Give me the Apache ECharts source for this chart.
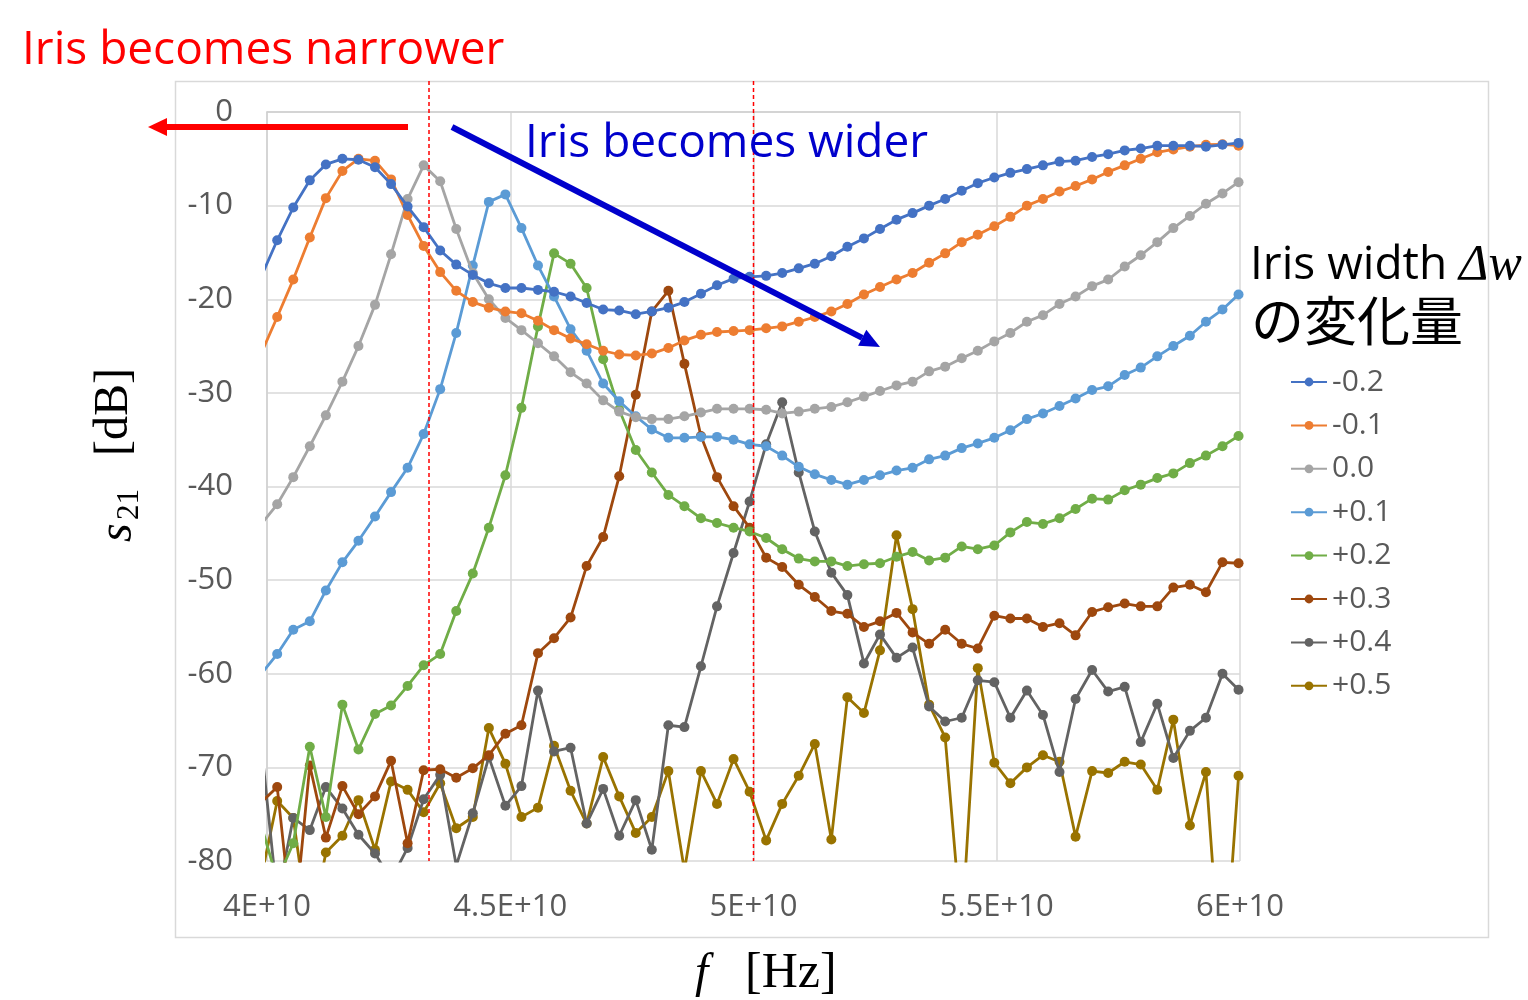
<!DOCTYPE html>
<html lang="en">
<head>
<meta charset="UTF-8">
<title>s21 vs f</title>
<script src="https://cdn.jsdelivr.net/npm/echarts@6/dist/echarts.min.js"></script>
<style>
  html, body { margin: 0; padding: 0; background: #fff; }
  #chart { width: 1528px; height: 1000px; }
</style>
</head>
<body>
<div id="chart"></div>
<script>
// frequency points [GHz] (first point sits just left of the axis start)
var freqs = [39.87, 40.21, 40.54, 40.88, 41.21, 41.55, 41.88, 42.22, 42.55, 42.89,
  43.22, 43.56, 43.89, 44.23, 44.56, 44.90, 45.23, 45.57, 45.90, 46.24,
  46.57, 46.91, 47.24, 47.58, 47.91, 48.25, 48.58, 48.92, 49.25, 49.59,
  49.92, 50.26, 50.59, 50.93, 51.26, 51.60, 51.93, 52.27, 52.60, 52.94,
  53.27, 53.61, 53.94, 54.28, 54.61, 54.95, 55.28, 55.62, 55.95, 56.29,
  56.62, 56.96, 57.29, 57.63, 57.96, 58.30, 58.63, 58.97, 59.30, 59.64, 59.97];

var names = ['-0.2', '-0.1', '0.0', '+0.1', '+0.2', '+0.3', '+0.4', '+0.5'];
var colors = ['#4472C4', '#ED7D31', '#A5A5A5', '#5B9BD5', '#70AD47', '#9E480E', '#636363', '#997300'];

var s_m02 = [-17.7, -13.7, -10.2, -7.3, -5.6, -5.0, -5.1, -5.9, -7.7, -10.1,
  -12.3, -14.8, -16.3, -17.4, -18.3, -18.8, -18.8, -19.0, -19.2, -19.7,
  -20.4, -21.1, -21.2, -21.6, -21.3, -20.9, -20.3, -19.4, -18.5, -17.8,
  -17.6, -17.5, -17.2, -16.7, -16.2, -15.4, -14.4, -13.5, -12.5, -11.5,
  -10.8, -10.0, -9.3, -8.4, -7.6, -7.0, -6.5, -6.1, -5.7, -5.3,
  -5.2, -4.8, -4.5, -4.1, -3.9, -3.6, -3.6, -3.6, -3.7, -3.5, -3.3];

var s_m01 = [-25.9, -21.9, -17.9, -13.4, -9.2, -6.3, -5.0, -5.2, -7.2, -11.0,
  -14.3, -17.1, -19.1, -20.3, -20.9, -21.3, -21.5, -22.3, -23.3, -24.2,
  -24.8, -25.5, -25.9, -26.0, -25.8, -25.2, -24.4, -23.8, -23.5, -23.4,
  -23.3, -23.1, -22.9, -22.4, -21.9, -21.3, -20.5, -19.5, -18.7, -17.9,
  -17.2, -16.1, -15.1, -13.9, -13.1, -12.2, -11.2, -10.0, -9.3, -8.5,
  -7.9, -7.2, -6.4, -5.7, -5.0, -4.3, -4.0, -3.7, -3.5, -3.45, -3.6];

var s_00 = [-44.1, -41.9, -39.0, -35.7, -32.4, -28.8, -25.0, -20.6, -15.2, -9.3,
  -5.7, -7.4, -12.5, -17.2, -20.0, -22.0, -23.3, -24.7, -26.1, -27.8,
  -29.0, -30.8, -32.0, -32.6, -32.8, -32.8, -32.5, -32.1, -31.7, -31.7,
  -31.7, -31.8, -32.2, -32.0, -31.7, -31.5, -31.0, -30.4, -29.8, -29.2,
  -28.8, -27.7, -27.2, -26.3, -25.5, -24.5, -23.6, -22.4, -21.7, -20.5,
  -19.7, -18.6, -17.9, -16.5, -15.3, -13.9, -12.4, -11.1, -9.8, -8.7, -7.5];

var s_p01 = [-60.1, -57.9, -55.3, -54.4, -51.1, -48.1, -45.8, -43.2, -40.6, -38.0,
  -34.4, -29.6, -23.6, -16.4, -9.6, -8.8, -12.4, -16.4, -19.7, -23.2,
  -25.5, -29.0, -30.9, -32.5, -33.9, -34.8, -34.8, -34.7, -34.7, -35.0,
  -35.5, -35.7, -36.7, -37.9, -38.7, -39.3, -39.8, -39.3, -38.8, -38.3,
  -38.0, -37.1, -36.7, -35.9, -35.4, -34.8, -34.0, -32.8, -32.2, -31.4,
  -30.6, -29.7, -29.3, -28.1, -27.3, -26.1, -25.0, -23.9, -22.4, -21.1, -19.5];

var s_p02 = [-76.0, -82.0, -78.1, -67.8, -75.3, -63.3, -68.1, -64.3, -63.4, -61.3,
  -59.1, -57.9, -53.3, -49.3, -44.4, -38.8, -31.6, -22.9, -15.1, -16.2,
  -18.8, -26.4, -31.8, -36.1, -38.5, -40.9, -42.1, -43.4, -43.9, -44.4,
  -44.8, -45.5, -46.7, -47.7, -48.0, -48.0, -48.5, -48.3, -48.2, -47.5,
  -47.0, -47.9, -47.6, -46.4, -46.7, -46.3, -44.9, -43.8, -44.0, -43.4,
  -42.4, -41.3, -41.4, -40.4, -39.8, -39.1, -38.6, -37.5, -36.7, -35.7, -34.6];

var s_p03 = [-73.8, -72.1, -88.0, -69.8, -77.5, -72.0, -75.0, -73.1, -69.3, -78.1,
  -70.3, -70.2, -71.1, -70.1, -68.7, -66.4, -65.5, -57.8, -56.2, -54.0,
  -48.5, -45.4, -38.9, -30.2, -21.3, -19.1, -26.9, -34.6, -39.0, -42.1,
  -44.4, -47.6, -48.6, -50.5, -51.8, -53.3, -53.6, -55.0, -54.4, -53.5,
  -55.6, -56.8, -55.3, -56.8, -57.3, -53.8, -54.1, -54.1, -55.0, -54.6,
  -55.9, -53.4, -52.9, -52.5, -52.8, -52.8, -50.8, -50.5, -51.3, -48.1, -48.2];

var s_p04 = [-67.0, -84.0, -75.4, -76.7, -72.1, -74.4, -77.2, -79.2, -82.0, -78.6,
  -73.4, -70.8, -80.5, -74.9, -68.9, -74.1, -72.0, -61.8, -68.3, -67.9,
  -76.0, -72.3, -77.3, -73.5, -78.8, -65.5, -65.7, -59.2, -52.8, -47.1,
  -41.6, -35.5, -31.0, -38.5, -44.8, -49.2, -51.6, -58.9, -55.8, -58.3,
  -57.2, -63.5, -65.1, -64.7, -60.7, -60.9, -64.7, -61.8, -64.4, -70.5,
  -62.7, -59.6, -61.9, -61.4, -67.3, -63.2, -69.0, -66.1, -64.7, -60.0, -61.7];

var s_p05 = [-82.0, -73.6, -75.4, -88.0, -79.1, -77.3, -73.5, -78.8, -71.5, -72.4,
  -74.8, -71.7, -76.5, -75.3, -65.8, -69.6, -75.3, -74.3, -67.7, -72.5,
  -76.0, -68.9, -73.1, -77.0, -75.3, -70.4, -81.0, -70.4, -73.9, -69.1,
  -72.6, -77.8, -73.9, -70.9, -67.5, -77.7, -62.5, -64.2, -57.5, -45.2,
  -53.1, -63.3, -66.8, -87.5, -59.4, -69.5, -71.7, -70.0, -68.7, -69.4,
  -77.4, -70.4, -70.6, -69.4, -69.7, -72.4, -64.9, -76.2, -70.5, -95.0, -70.9];

var allSeries = [s_m02, s_m01, s_00, s_p01, s_p02, s_p03, s_p04, s_p05];

// dashed marker frequencies [GHz]
var markerFreqs = [43.33, 50.0];

var chart = echarts.init(document.getElementById('chart'));
var labelFont = '"Open Sans", "Noto Sans", sans-serif';

var series = allSeries.map(function (vals, k) {
  return {
    name: names[k],
    type: 'line',
    data: freqs.map(function (f, i) { return [f, vals[i]]; }),
    symbol: 'circle',
    symbolSize: 10,
    showAllSymbol: true,
    clip: true,
    itemStyle: { color: colors[k] },
    lineStyle: { color: colors[k], width: 2.8 },
    z: 10 - k
  };
});

chart.setOption({
  animation: false,
  backgroundColor: '#ffffff',
  grid: { left: 267, right: 288, top: 112, bottom: 139 },
  xAxis: {
    type: 'value', min: 40, max: 60, interval: 5,
    axisLine: { show: true, lineStyle: { color: '#D0D0D0', width: 1.5 } },
    axisTick: { show: false },
    splitLine: { show: true, lineStyle: { color: '#D9D9D9', width: 1.5 } },
    axisLabel: {
      margin: 31, color: '#595959', fontSize: 31, fontFamily: labelFont,
      formatter: function (v) { return (v / 10) + 'E+10'; }
    }
  },
  yAxis: {
    type: 'value', min: -80, max: 0, interval: 10,
    axisLine: { show: true, lineStyle: { color: '#D0D0D0', width: 1.5 } },
    axisTick: { show: false },
    splitLine: { show: true, lineStyle: { color: '#D9D9D9', width: 1.5 } },
    axisLabel: { margin: 34, color: '#595959', fontSize: 31, fontFamily: labelFont }
  },
  legend: {
    orient: 'vertical', left: 1290, top: 367, padding: 0,
    itemWidth: 36, itemHeight: 11, itemGap: 13.4,
    textStyle: { color: '#595959', fontSize: 30, fontFamily: labelFont, lineHeight: 30 },
    data: names
  },
  series: series
});

// overlay annotations
var gx = markerFreqs.map(function (f) { return chart.convertToPixel({ xAxisIndex: 0 }, f); });
var plotBottom = chart.convertToPixel({ yAxisIndex: 0 }, -80);
var serif = '"Liberation Serif", "DejaVu Serif", serif';

var graphics = [
  { type: 'rect', shape: { x: 175.5, y: 81.5, width: 1313, height: 856 }, style: { fill: 'none', stroke: '#D9D9D9', lineWidth: 1.5 }, z: -1, silent: true }
];
gx.forEach(function (x) {
  graphics.push({ type: 'line', shape: { x1: x, y1: 81, x2: x, y2: plotBottom },
    style: { stroke: '#FF0000', lineWidth: 1.5, lineDash: [4, 3] }, z: 100 });
});
// red arrow (narrower)
graphics.push({ type: 'line', shape: { x1: 408, y1: 127, x2: 164, y2: 127 }, style: { stroke: '#FF0000', lineWidth: 6 }, z: 100 });
graphics.push({ type: 'polygon', shape: { points: [[148, 127], [167, 118], [167, 136]] }, style: { fill: '#FF0000' }, z: 100 });
// blue arrow (wider)
(function () {
  var x1 = 452, y1 = 127, x2 = 880, y2 = 347;
  var ang = Math.atan2(y2 - y1, x2 - x1), L = 20, W = 9;
  var bx = x2 - L * Math.cos(ang), by = y2 - L * Math.sin(ang);
  var nx = -Math.sin(ang), ny = Math.cos(ang);
  graphics.push({ type: 'line', shape: { x1: x1, y1: y1, x2: bx, y2: by }, style: { stroke: '#0000CC', lineWidth: 6 }, z: 100 });
  graphics.push({ type: 'polygon', shape: { points: [[x2, y2], [bx + nx * W, by + ny * W], [bx - nx * W, by - ny * W]] }, style: { fill: '#0000CC' }, z: 100 });
})();
graphics.push({ type: 'text', x: 22, y: 51, style: { text: 'Iris becomes narrower', fill: '#FF0000', font: '46px ' + labelFont, verticalAlign: 'middle' }, z: 100 });
graphics.push({ type: 'text', x: 525, y: 144, style: { text: 'Iris becomes wider', fill: '#0000CC', font: '46px ' + labelFont, verticalAlign: 'middle' }, z: 100 });
// legend title
graphics.push({ type: 'text', x: 1250, y: 266, style: {
  text: '{a|Iris width }{b|Δw}', verticalAlign: 'middle',
  rich: {
    a: { fontSize: 46, fontFamily: labelFont, fill: '#000' },
    b: { fontSize: 50, fontFamily: serif, fontStyle: 'italic', fill: '#000' }
  } }, z: 100 });
graphics.push({ type: 'text', x: 1251, y: 321, style: { text: 'の変化量', fill: '#000', font: '53px "Noto Sans CJK JP"', verticalAlign: 'middle' }, z: 100 });
// y axis title (rotated)
graphics.push({ type: 'group', x: 118, y: 542, rotation: Math.PI / 2, children: [
  { type: 'text', x: 0, y: 0, style: { text: 's', font: 'italic 48px ' + serif, fill: '#000', verticalAlign: 'middle' } },
  { type: 'text', x: 22, y: 12, style: { text: '21', font: '31px ' + serif, fill: '#000', verticalAlign: 'middle' } },
  { type: 'text', x: 86, y: -4, style: { text: '[dB]', font: '48px ' + serif, fill: '#000', verticalAlign: 'middle' } }
] });
// x axis title
graphics.push({ type: 'text', x: 695, y: 974, style: { text: 'f', font: 'italic 48px ' + serif, fill: '#000', verticalAlign: 'middle' }, z: 100 });
graphics.push({ type: 'text', x: 745, y: 974, style: { text: '[Hz]', font: '50px ' + serif, fill: '#000', verticalAlign: 'middle' }, z: 100 });

chart.setOption({ graphic: graphics });
</script>
</body>
</html>
